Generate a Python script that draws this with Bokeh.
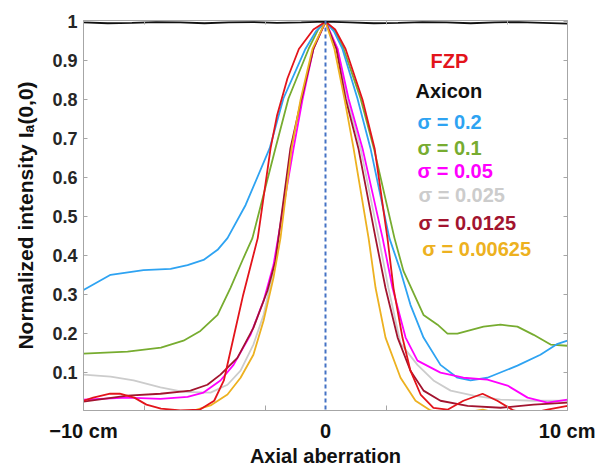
from bokeh.plotting import figure
from bokeh.models import FixedTicker, LinearAxis, Label, Span, Range1d
from bokeh.embed import file_html
from bokeh.resources import INLINE

# ---------------- data ----------------
x_fzp = [-10, -9.6, -8.9, -8.5, -7.9, -7.4, -6.8, -6.0, -5.2, -4.6, -4.2, -3.8, -3.4, -2.8,
         -2.27, -2.0, -1.57, -1.1, -0.5, 0, 0.4, 0.83, 1.53, 2.03, 2.56, 2.81, 3.18, 3.51,
         3.93, 4.46, 5.04, 5.7, 6.49, 7.1, 7.77, 8.4, 9.17, 10]
y_fzp = [0.028, 0.036, 0.046, 0.046, 0.036, 0.018, 0.008, 0.003, 0.005, 0.028, 0.08, 0.19,
         0.30, 0.445, 0.675, 0.76, 0.855, 0.93, 0.98, 1.0, 0.98, 0.93, 0.80, 0.675, 0.445,
         0.317, 0.19, 0.105, 0.044, 0.01, 0.005, 0.028, 0.046, 0.028, 0.003, -0.005, 0.005, 0.015]

x_axicon = [-10, -9, -8, -7, -6, -5, -4, -3, -2, -1, 0, 1, 2, 3, 4, 5, 6, 7, 8, 9, 10]
y_axicon = [0.998, 0.996, 0.997, 0.999, 0.998, 0.996, 0.998, 0.999, 0.997, 0.998, 1.0,
            0.998, 0.996, 0.997, 0.999, 0.998, 0.996, 0.998, 0.999, 0.997, 0.995]

x_s0200 = [-10, -8.88, -7.52, -6.4, -5.7, -5.04, -4.46, -4.05, -3.3, -2.31, -1.74, -0.83,
           -0.4, 0, 0.35, 0.7, 1.32, 1.86, 2.64, 3.1, 3.51, 4.05, 4.75, 5.45, 5.99, 6.69,
           7.93, 8.88, 9.59, 10]
y_s0200 = [0.312, 0.351, 0.363, 0.366, 0.376, 0.389, 0.415, 0.445, 0.53, 0.675, 0.803, 0.93,
           0.975, 1.0, 0.975, 0.93, 0.803, 0.675, 0.445, 0.361, 0.274, 0.19, 0.12, 0.087,
           0.08, 0.087, 0.118, 0.146, 0.174, 0.182]

x_s0100 = [-10, -8.18, -6.8, -5.87, -5.17, -4.46, -3.93, -3.39, -3.02, -2.07, -1.53, -0.7,
           -0.3, 0, 0.35, 0.75, 1.45, 2.0, 2.85, 3.22, 4.05, 4.63, 5.04, 5.45, 6.53, 7.23,
           7.93, 8.6, 9.3, 10]
y_s0100 = [0.149, 0.154, 0.164, 0.182, 0.207, 0.248, 0.317, 0.394, 0.445, 0.675, 0.803, 0.93,
           0.98, 1.0, 0.98, 0.93, 0.803, 0.675, 0.445, 0.361, 0.248, 0.223, 0.2, 0.2, 0.218,
           0.223, 0.218, 0.197, 0.172, 0.169]

x_s0050 = [-10, -8.18, -6.82, -5.7, -5.04, -4.34, -3.8, -3.1, -2.56, -2.15, -1.32, -0.95,
           -0.5, 0, 0.5, 0.95, 1.53, 2.36, 2.77, 3.31, 3.8, 4.75, 5.7, 6.69, 7.52, 8.35,
           9.17, 10]
y_s0050 = [0.031, 0.036, 0.033, 0.038, 0.049, 0.08, 0.12, 0.197, 0.284, 0.376, 0.675, 0.80,
           0.93, 1.0, 0.93, 0.803, 0.675, 0.445, 0.317, 0.19, 0.131, 0.1, 0.087, 0.082,
           0.067, 0.036, 0.023, 0.031]

x_s0025 = [-10, -8.88, -7.93, -6.82, -5.87, -4.75, -4.05, -3.51, -2.98, -2.56, -2.15, -1.4,
           -1.0, -0.5, 0, 0.5, 0.9, 1.45, 2.2, 2.6, 3.1, 3.8, 4.46, 5.17, 6.12, 7.23, 8.6, 10]
y_s0025 = [0.095, 0.09, 0.08, 0.062, 0.051, 0.049, 0.069, 0.105, 0.172, 0.248, 0.361, 0.675,
           0.80, 0.93, 1.0, 0.93, 0.80, 0.675, 0.445, 0.317, 0.175, 0.12, 0.08, 0.054,
           0.041, 0.031, 0.028, 0.028]

x_s0125 = [-10, -8.18, -6.82, -5.58, -4.88, -4.34, -3.64, -2.98, -2.4, -2.07, -1.45, -1.0,
           -0.5, 0, 0.45, 0.83, 1.36, 2.07, 2.48, 2.98, 3.51, 4.05, 4.75, 5.87, 7.23, 8.6, 10]
y_s0125 = [0.026, 0.041, 0.046, 0.054, 0.069, 0.095, 0.138, 0.215, 0.31, 0.386, 0.675, 0.80,
           0.93, 1.0, 0.93, 0.803, 0.675, 0.445, 0.317, 0.19, 0.105, 0.054, 0.028, 0.015,
           0.01, 0.018, 0.023]

x_s00625 = [-6.2, -5.45, -4.75, -4.05, -3.51, -2.98, -2.56, -2.15, -1.86, -1.4, -1.03, -0.54,
            0, 0.37, 0.79, 1.16, 1.78, 2.07, 2.48, 3.1, 3.72, 4.34, 5.0, 5.8, 6.5, 7.2]
y_s00625 = [-0.005, 0.003, 0.016, 0.044, 0.087, 0.146, 0.233, 0.343, 0.445, 0.675, 0.80, 0.93,
            1.0, 0.93, 0.80, 0.675, 0.445, 0.317, 0.19, 0.087, 0.028, 0.003, -0.005, -0.002,
            0.005, -0.005]

series_names = ["FZP", "Axicon", "σ = 0.2", "σ = 0.1", "σ = 0.05", "σ = 0.025", "σ = 0.0125", "σ = 0.00625"]
series_colors = ["#e3141b", "#111111", "#2ea3f2", "#77ac30", "#ff00ff", "#cccccc", "#a2142f", "#edb120"]

xtick_vals = [-10, 0, 10]
xtick_labels = ["−10 cm", "0", "10 cm"]
xtick_minor = [-7.5, -2.5, 2.5, 7.5]
ytick_vals = [0.1, 0.2, 0.3, 0.4, 0.5, 0.6, 0.7, 0.8, 0.9, 1]
ytick_labels = ["0.1", "0.2", "0.3", "0.4", "0.5", "0.6", "0.7", "0.8", "0.9", "1"]

x_title = "Axial aberration"
y_title = "Normalized intensity Iₐ(0,0)"

# ---------------- figure ----------------
FONT = "Liberation Sans"
AX = "#a6a6a6"
TXT = "#262626"

p = figure(frame_width=484, frame_height=390,
           x_range=Range1d(-10, 10), y_range=Range1d(0.003, 1.003),
           output_backend="svg", toolbar_location=None,
           min_border_left=83, min_border_top=20, min_border_right=28, min_border_bottom=0)
p.grid.visible = False
p.outline_line_color = AX
p.background_fill_color = "white"
p.border_fill_color = "white"

# bottom axis
xa = p.xaxis[0]
xa.ticker = FixedTicker(ticks=xtick_vals, minor_ticks=xtick_minor)
xa.major_label_overrides = dict(zip(xtick_vals, xtick_labels))
xa.major_tick_in = 0
xa.major_tick_out = 0
xa.minor_tick_in = 5
xa.minor_tick_out = 0
xa.minor_tick_line_color = AX
xa.axis_line_color = AX
xa.major_label_text_font = FONT
xa.major_label_text_font_style = "bold"
xa.major_label_text_font_size = "20px"
xa.major_label_text_color = "#111111"
xa.major_label_standoff = 9
xa.axis_label = x_title
xa.axis_label_text_font = FONT
xa.axis_label_text_font_style = "bold"
xa.axis_label_text_font_size = "20px"
xa.axis_label_text_color = "#111111"
xa.axis_label_standoff = 0

# left axis
ya = p.yaxis[0]
ya.ticker = FixedTicker(ticks=ytick_vals)
ya.major_label_overrides = dict(zip(ytick_vals, ytick_labels))
ya.major_tick_in = 4
ya.major_tick_out = 0
ya.major_tick_line_color = AX
ya.minor_tick_line_color = None
ya.axis_line_color = AX
ya.major_label_text_font = FONT
ya.major_label_text_font_style = "bold"
ya.major_label_text_font_size = "18px"
ya.major_label_text_color = TXT
ya.major_label_standoff = 6
ya.axis_label = y_title
ya.axis_label_text_font = FONT
ya.axis_label_text_font_style = "bold"
ya.axis_label_text_font_size = "21px"
ya.axis_label_text_color = "#111111"
ya.axis_label_standoff = 12

# right & top axes: only inward ticks
ra = LinearAxis(ticker=FixedTicker(ticks=[], minor_ticks=ytick_vals))
ta = LinearAxis(ticker=FixedTicker(ticks=[], minor_ticks=xtick_minor))
for ax in (ra, ta):
    ax.minor_tick_in = 4
    ax.minor_tick_out = 0
    ax.major_tick_in = 0
    ax.major_tick_out = 0
    ax.minor_tick_line_color = AX
    ax.axis_line_color = AX
p.add_layout(ra, "right")
p.add_layout(ta, "above")

# zero line
p.add_layout(Span(location=0, dimension="height", line_color="#4472c4",
                  line_width=2, line_dash="4 3"))

# curves (drawn back to front)
xs = [x_fzp, x_axicon, x_s0200, x_s0100, x_s0050, x_s0025, x_s0125, x_s00625]
ys = [y_fzp, y_axicon, y_s0200, y_s0100, y_s0050, y_s0025, y_s0125, y_s00625]
order = [5, 3, 2, 4, 6, 7, 0, 1]
for i in order:
    p.line(xs[i], ys[i], line_color=series_colors[i], line_width=1.8)

# text legend (layout positions in data units)
leg_x = [4.34, 3.72, 3.80, 3.80, 3.80, 3.84, 3.84, 4.0]
leg_y = [0.898, 0.821, 0.744, 0.675, 0.617, 0.555, 0.484, 0.417]
for name, col, lx, ly in zip(series_names, series_colors, leg_x, leg_y):
    p.add_layout(Label(x=lx, y=ly, text=name, text_color=col, text_font=FONT,
                       text_font_style="bold", text_font_size="20px",
                       text_baseline="middle", text_align="left"))

open("out.html", "w").write(file_html(p, INLINE))
